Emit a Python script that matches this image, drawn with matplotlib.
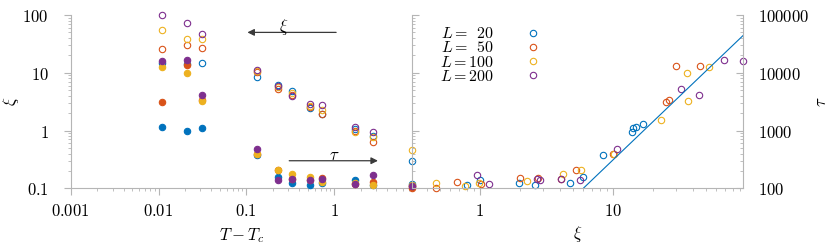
import matplotlib
matplotlib.use("Agg")
import matplotlib.pyplot as plt
import numpy as np
from matplotlib.ticker import FuncFormatter, LogLocator, NullFormatter

plt.rcParams['mathtext.fontset'] = 'cm'
plt.rcParams['font.size'] = 12

# temperature distance from T_c (left panel columns)
dT = [0.011, 0.021, 0.031, 0.131, 0.231, 0.331, 0.531, 0.731, 1.731, 2.731, 7.73]

# correlation length xi (open) and relaxation time tau (filled), per system size
xi_20 = [14.9, 14.05, 14.5, 8.5, 6.1, 4.8, 2.5, 1.97, 1.05, 0.8, 0.30]
xi_50 = [26, 30.5, 27.1, 10.4, 5.2, 4.2, 2.6, 1.96, 1.0, 0.64, 0.11]
xi_100 = [54.8, 37.8, 37.8, 10.7, 5.6, 4.4, 2.7, 2.27, 0.95, 0.78, 0.458]
xi_200 = [99.6, 72.4, 46, 11.0, 5.9, 4.0, 2.9, 2.73, 1.16, 0.94, 0.11]

tau_20 = [1150, 980, 1117, 377, 157, 125, 113, 122, 139, 113, 120]
tau_50 = [3110, 13400, 3420, 390, 205, 143, 139, 149, 118, 130, 102]
tau_100 = [12400, 10000, 3280, 397, 207, 179, 155, 128, 125, 114, 112]
tau_200 = [15700, 16600, 4060, 484, 141, 145, 142, 147, 120, 169, 108]

# right panel: tau against xi
rxi_20 = [8.45, 14.05, 14.3, 14.9, 16.9, 6.0, 4.77, 2.58, 1.96, 1.0, 0.80]
rtau_20 = [377, 953, 1117, 1150, 1294, 157, 125, 113, 122, 137, 113]
rxi_50 = [29.8, 45.5, 25.1, 26.5, 10.1, 5.32, 2.72, 2.0, 0.667, 0.47, 1.02, 4.05]
rtau_50 = [13200, 13000, 3080, 3420, 387, 205, 149, 149, 128, 102, 118, 143]
rxi_100 = [53.2, 36, 37, 23.2, 10.3, 5.77, 4.2, 2.27, 0.98, 0.77, 0.47]
rtau_100 = [12400, 10000, 3240, 1500, 392, 207, 179, 134, 125, 108, 125]
rxi_200 = [95, 69.3, 32.5, 44.4, 10.8, 5.7, 4.08, 2.83, 2.69, 0.95, 1.17]
rtau_200 = [15900, 16700, 5160, 4060, 484, 141, 145, 139, 146, 168, 120]

# power-law guide tau ~ A xi^z
z = 2.2
A = 1.94

sizes = [20, 50, 100, 200]
colors = ['#0072BD', '#D95319', '#EDB120', '#7E2F8E']
xi_all = [xi_20, xi_50, xi_100, xi_200]
tau_all = [tau_20, tau_50, tau_100, tau_200]
rxi_all = [rxi_20, rxi_50, rxi_100, rxi_200]
rtau_all = [rtau_20, rtau_50, rtau_100, rtau_200]

gray = '#b5b5b5'

fig = plt.figure(figsize=(8.31, 2.46), dpi=100)
W, H = 831, 246
ax1 = fig.add_axes([70.7 / W, 57.7 / H, 341.6 / W, 173.3 / H])
ax1r = ax1.twinx()
ax2 = fig.add_axes([412.3 / W, 57.7 / H, 330.4 / W, 173.3 / H])
ax2.patch.set_visible(False)

fmt = FuncFormatter(lambda v, p: r'$%g$' % v)

for L, c, xi, tau in zip(sizes, colors, xi_all, tau_all):
    ax1.plot(dT, xi, 'o', mfc='none', mec=c, ms=4.6, mew=0.8, clip_on=False)
    ax1r.plot(dT, tau, 'o', mfc=c, mec=c, ms=4.6, mew=0.8, clip_on=False)

for L, c, xi, tau in zip(sizes, colors, rxi_all, rtau_all):
    ax2.plot(xi, tau, 'o', mfc='none', mec=c, ms=4.6, mew=0.8, clip_on=False,
             label=r'$L=\enspace%d$' % L if L < 100 else r'$L=%d$' % L)

xf = np.logspace(0, 2, 50)
ax2.plot(xf, A * xf ** z, '-', color='#0072BD', lw=0.8)

ax1.set_xscale('log')
ax1.set_yscale('log')
ax1r.set_yscale('log')
ax2.set_xscale('log')
ax2.set_yscale('log')
ax1.set_xlim(0.001, 7.73)
ax1.set_ylim(0.1, 100)
ax1r.set_ylim(100, 1e5)
ax2.set_xlim(0.31, 95)
ax2.set_ylim(100, 1e5)

for ax in [ax1, ax1r, ax2]:
    for s in ax.spines.values():
        s.set_color(gray)
        s.set_linewidth(0.8)
    ax.xaxis.set_major_formatter(fmt)
    ax.yaxis.set_major_formatter(fmt)
    ax.xaxis.set_minor_formatter(NullFormatter())
    ax.yaxis.set_minor_formatter(NullFormatter())
    ax.xaxis.set_minor_locator(LogLocator(base=10, subs=np.arange(2, 10), numticks=20))
    ax.yaxis.set_minor_locator(LogLocator(base=10, subs=np.arange(2, 10), numticks=20))
    ax.tick_params(which='major', color=gray, length=5, width=0.8, labelsize=12)
    ax.tick_params(which='minor', color=gray, length=2.5, width=0.6)

ax1.spines['top'].set_visible(False)
ax1.spines['right'].set_visible(False)
ax1r.spines['top'].set_visible(False)
ax1r.spines['left'].set_visible(False)
ax1r.spines['bottom'].set_visible(False)
ax1r.tick_params(axis='y', which='both', direction='out', labelright=False)
ax1.tick_params(axis='y', which='major', pad=11)
ax1.tick_params(axis='x', which='major', pad=5)

ax2.spines['top'].set_visible(False)
ax2.spines['left'].set_visible(False)
ax2.yaxis.tick_right()
ax2.yaxis.set_label_position('right')
ax2.tick_params(axis='y', which='both', direction='in', pad=11)
ax2.tick_params(axis='x', which='major', pad=5)

ax1.set_xlabel(r'$T-T_c$', fontsize=12, labelpad=4)
ax1.set_ylabel(r'$\xi$', fontsize=12, labelpad=1)
ax2.set_xlabel(r'$\xi$', fontsize=12, labelpad=3)
ax2.set_ylabel(r'$\tau$', fontsize=12, labelpad=2)

arrow = dict(arrowstyle='-|>', color='#3a3a3a', lw=0.9, shrinkA=0, shrinkB=0,
             mutation_scale=10)
ax1.annotate('', xy=(0.1026, 50), xytext=(1.05, 50), arrowprops=arrow)
ax1.text(0.265, 62, r'$\xi$', ha='center', va='center', fontsize=12)
ax1.annotate('', xy=(3.14, 0.3), xytext=(0.307, 0.3), arrowprops=arrow)
ax1.text(1.0, 0.37, r'$\tau$', ha='center', va='center', fontsize=12)

leg = ax2.legend(loc='upper left', frameon=False, markerfirst=False, fontsize=11.5,
                 handletextpad=1.4, labelspacing=-0.05, borderaxespad=0.3,
                 bbox_to_anchor=(0.05, 1.0))

fig.savefig('out.png', dpi=100)
